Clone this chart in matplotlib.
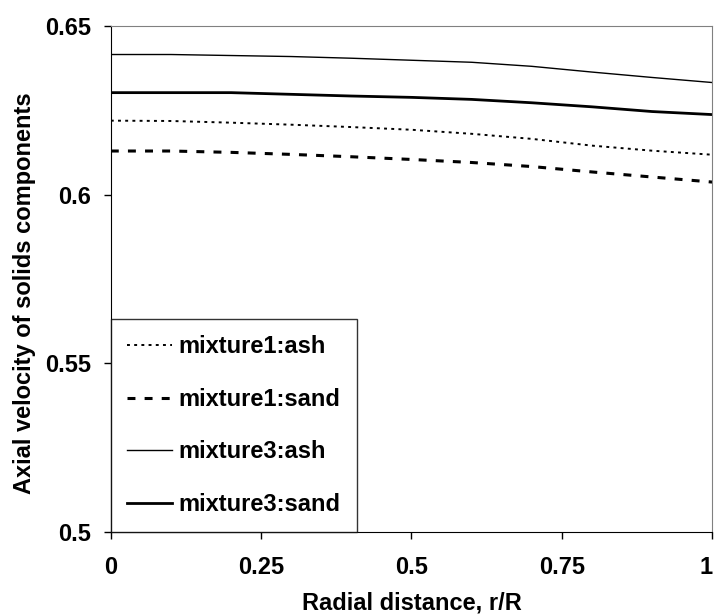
import matplotlib
matplotlib.use("Agg")
import matplotlib.pyplot as plt

plt.rcParams['font.family'] = ['Liberation Sans', 'DejaVu Sans']
plt.rcParams['font.weight'] = 'bold'

# Radial positions and axial velocities
r_over_R = [0.0, 0.1, 0.2, 0.3, 0.4, 0.5, 0.6, 0.7, 0.8, 0.9, 1.0]
mix1_ash = [0.6219, 0.6218, 0.6213, 0.6207, 0.6200, 0.6192, 0.6180, 0.6165, 0.6145, 0.6130, 0.6118]
mix1_sand = [0.6129, 0.6129, 0.6125, 0.6119, 0.6112, 0.6104, 0.6095, 0.6083, 0.6067, 0.6052, 0.6037]
mix3_ash = [0.6415, 0.6415, 0.6412, 0.6409, 0.6404, 0.6398, 0.6392, 0.6380, 0.6363, 0.6347, 0.6332]
mix3_sand = [0.6302, 0.6302, 0.6302, 0.6297, 0.6292, 0.6288, 0.6282, 0.6272, 0.6260, 0.6246, 0.6237]

x_ticks = [0, 0.25, 0.5, 0.75, 1]
x_tick_labels = ['0', '0.25', '0.5', '0.75', '1']
y_ticks = [0.5, 0.55, 0.6, 0.65]
y_tick_labels = ['0.5', '0.55', '0.6', '0.65']

fs = 17

fig = plt.figure(figsize=(7.15, 6.15), dpi=100)
ax = fig.add_axes([0.155, 0.135, 0.841, 0.823])

ax.plot(r_over_R, mix1_ash, color='black', lw=1.4, linestyle=(0, (1.5, 2.2)), label='mixture1:ash')
ax.plot(r_over_R, mix1_sand, color='black', lw=2.2, linestyle=(0, (2.6, 3.0)), label='mixture1:sand')
ax.plot(r_over_R, mix3_ash, color='black', lw=1.0, label='mixture3:ash')
ax.plot(r_over_R, mix3_sand, color='black', lw=2.0, label='mixture3:sand')

ax.set_xlim(0, 1)
ax.set_ylim(0.5, 0.65)
ax.set_xticks(x_ticks)
ax.set_xticklabels(x_tick_labels)
ax.set_yticks(y_ticks)
ax.set_yticklabels(y_tick_labels)
ax.tick_params(axis='both', direction='out', length=5, width=1, labelsize=fs, colors='black')
ax.tick_params(axis='y', pad=9)
ax.tick_params(axis='x', pad=12)
# last x label sits at the figure edge, keep it inside
ax.get_xticklabels()[-1].set_horizontalalignment('right')

for side in ['top', 'right']:
    ax.spines[side].set_color('#808080')
for side in ['left', 'bottom']:
    ax.spines[side].set_color('black')

ax.set_xlabel('Radial distance, r/R', fontsize=fs, fontweight='bold', labelpad=9)
ax.set_ylabel('Axial velocity of solids components', fontsize=fs, fontweight='bold')
ax.yaxis.set_label_coords(-0.124, 0.472)

leg = ax.legend(loc='lower left', bbox_to_anchor=(0, 0), borderaxespad=0,
                fontsize=fs, frameon=True, fancybox=False, edgecolor='black',
                handlelength=1.9, handletextpad=0.3, labelspacing=1.25,
                borderpad=0.68)
leg.get_frame().set_linewidth(1.0)

fig.savefig('out.png', dpi=100)
